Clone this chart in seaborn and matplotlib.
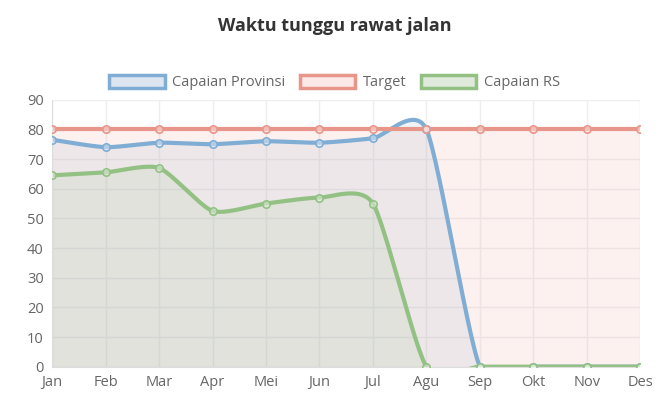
import numpy as np
import matplotlib
matplotlib.use("Agg")
import matplotlib.pyplot as plt
import seaborn as sns
from matplotlib.patches import Patch

months = ["Jan","Feb","Mar","Apr","Mei","Jun","Jul","Agu","Sep","Okt","Nov","Des"]
provinsi = [76.5,74,75.5,75,76,75.5,77,80,0,0,0,0]
target = [80]*12
rs = [64.5,65.5,67,52.5,55,57,55,0,0,0,0,0]

sns.set_style("white")
plt.rcParams['font.family'] = ['Open Sans','DejaVu Sans']

def smooth(y, t=0.22, n=30):
    x = np.arange(len(y)); y = np.asarray(y, float)
    xs, ys = [], []
    for i in range(len(y)-1):
        p0 = max(i-1,0); p3 = min(i+2,len(y)-1)
        c1 = (x[i] + t*(x[i+1]-x[p0])/2, y[i] + t*(y[i+1]-y[p0])/2)
        c2 = (x[i+1] - t*(x[p3]-x[i])/2, y[i+1] - t*(y[p3]-y[i])/2)
        s = np.linspace(0,1,n)
        bx = (1-s)**3*x[i] + 3*(1-s)**2*s*c1[0] + 3*(1-s)*s**2*c2[0] + s**3*x[i+1]
        by = (1-s)**3*y[i] + 3*(1-s)**2*s*c1[1] + 3*(1-s)*s**2*c2[1] + s**3*y[i+1]
        xs.extend(bx); ys.extend(by)
    return np.array(xs), np.array(ys)

fig = plt.figure(figsize=(6.69,4.12), dpi=100)
ax = fig.add_axes([0.078, 0.11, 0.879, 0.648])
series = [("Capaian Provinsi", provinsi, "#7fadd4", "#dde6f0"),
          ("Target", target, "#e8958a", "#fbe9e7"),
          ("Capaian RS", rs, "#93c184", "#dfe9dc")]
for lab, y, c, f in series:
    xs, ys = smooth(y)
    ax.fill_between(xs, 0, ys, color=c, alpha=0.13, lw=0)
    sns.lineplot(x=xs, y=ys, ax=ax, color=c, lw=3, sort=False)
    ax.scatter(range(12), y, s=28, facecolor=(1,1,1,0.4), edgecolor=c, lw=1.2, zorder=5)

ax.set_xlim(0, 11); ax.set_ylim(0, 90)
ax.set_yticks(range(0, 91, 10))
ax.set_xticks(range(12)); ax.set_xticklabels(months)
ax.tick_params(colors="#666666", labelsize=10.5, length=0, pad=6)
ax.grid(True, color="#efefef", lw=1)
ax.set_axisbelow(True)
for s in ax.spines.values(): s.set_visible(False)
ax.spines['left'].set_visible(True); ax.spines['left'].set_color("#dddddd")
ax.spines['bottom'].set_visible(True); ax.spines['bottom'].set_color("#dddddd")

fig.text(0.5, 0.925, "Waktu tunggu rawat jalan", ha="center", fontsize=13, fontweight="bold", color="#333333")
handles = [Patch(facecolor=f, edgecolor=c, lw=2.5) for _, _, c, f in series]
fig.legend(handles, [s[0] for s in series], loc="center", bbox_to_anchor=(0.5, 0.8), ncol=3,
           frameon=False, fontsize=10.5, labelcolor="#666666", handlelength=3.8, handleheight=1.0,
           columnspacing=1.0, handletextpad=0.5)
fig.savefig("out.png", dpi=100)
